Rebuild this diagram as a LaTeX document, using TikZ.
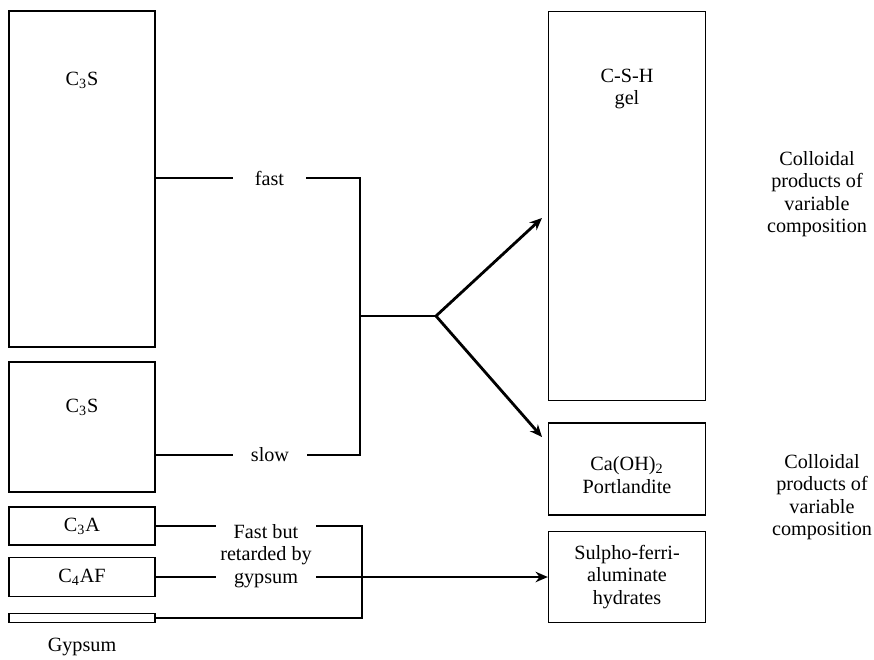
\documentclass[tikz,border=0pt]{standalone}
\usepackage{fontspec}
\setmainfont{Liberation Serif}
\usepackage{tikz}
\usetikzlibrary{arrows.meta,positioning}

\begin{document}
\begin{tikzpicture}[x=0.02cm, y=-0.02cm, >={Stealth[length=7pt,width=6pt]},
    txt/.style={font=\fontsize{11.5}{12.8}\selectfont, align=center, inner sep=1pt},
    phase/.style={draw, line width=0.8pt, inner sep=0pt, minimum width=2.92cm},
    product/.style={draw, line width=0.8pt, inner sep=0pt, minimum width=3.14cm},
    rate/.style={txt, inner xsep=0pt, minimum width=1.46cm},
    link/.style={line width=0.8pt},
    flow/.style={line width=1.6pt, ->}]
    \useasboundingbox (0,0) rectangle (874,659);

    % Clinker phases
    \node[phase, minimum height=6.72cm] (alite) at (82,179) {};
    \node[txt] (aliteL) at (82,80) {C\textsubscript{3}S};
    \node[phase, minimum height=2.6cm] (belite) at (82,427) {};
    \node[txt] (beliteL) at (82,407) {C\textsubscript{3}S};
    \node[txt, phase, minimum height=0.76cm] (c3a) at (82,526) {C\textsubscript{3}A};
    \node[txt, phase, minimum height=0.78cm] (c4af) at (82,577) {C\textsubscript{4}AF};
    \node[phase, minimum height=0.18cm] (gypsum) at (82,618) {};
    \node[txt] (gypsumL) at (82,647) {Gypsum};

    % Hydration products
    \node[product, minimum height=7.78cm] (csh) at (627,206) {};
    \node[txt] (cshL) at (627,89) {C-S-H\\gel};
    \node[product, minimum height=1.84cm] (caoh) at (627,469) {};
    \node[txt] (caohL) at (627,475) {Ca(OH)\textsubscript{2}\\Portlandite};
    \node[txt, product, minimum height=1.82cm] (sfa) at (627,577)
        {Sulpho-ferri-\\aluminate\\hydrates};

    % Notes on the right
    \node[txt] (collA) at (817,194) {Colloidal\\products of\\variable\\composition};
    \node[txt] (collB) at (822,497) {Colloidal\\products of\\variable\\composition};

    % Rates
    \node[rate] (fast) at (269.5,178) {fast};
    \node[rate] (slow) at (270,455) {slow};
    \node[txt, minimum width=2cm] (retard) at (266,556) {Fast but\\retarded by\\gypsum};

    \coordinate (split) at (360,316);
    \coordinate (fork) at (436,316);
    \coordinate (tipA) at (542,218);
    \coordinate (tipB) at (542,437);
    \coordinate (merge) at (362,618);

    % Silicates
    \draw[link] (alite.east |- fast) -- (fast.west);
    \draw[link] (belite.east |- slow) -- (slow.west);
    \draw[link] (fast.east) -| (split) |- (slow.east);
    \draw[line width=1.1pt] (split) -- (fork);
    \draw[flow] (fork) -- (tipA);
    \draw[flow] (fork) -- (tipB);

    % Aluminates
    \draw[link] (c3a) -- (c3a -| retard.west);
    \draw[link] (c4af) -- (c4af -| retard.west);
    \draw[link] (c3a -| retard.east) -| (merge) -- (gypsum);
    \draw[line width=1pt, ->] (c4af -| retard.east) -- (sfa);
\end{tikzpicture}
\end{document}
